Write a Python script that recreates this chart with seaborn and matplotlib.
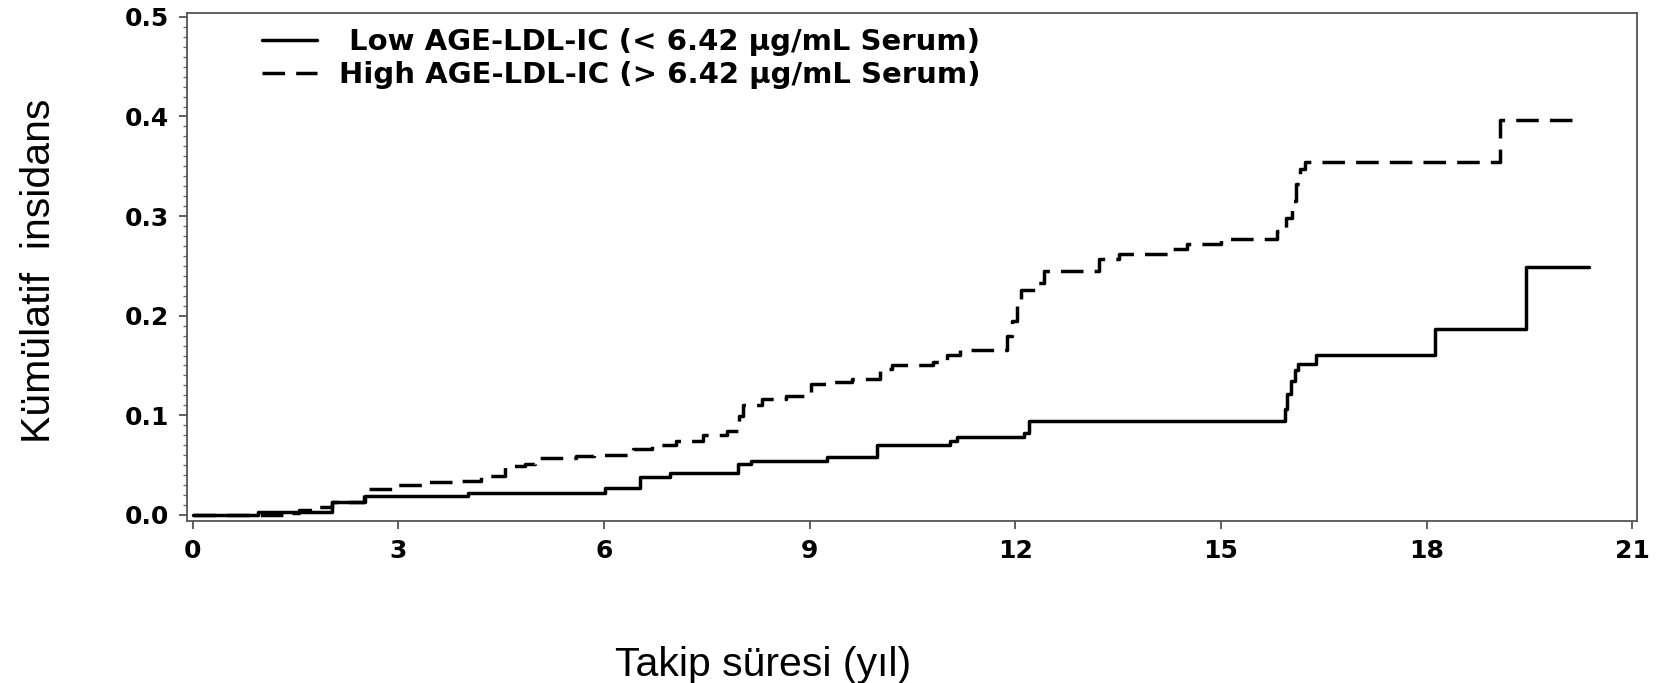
import matplotlib
matplotlib.use('Agg')
import matplotlib.pyplot as plt
import seaborn as sns
import pandas as pd
from matplotlib.ticker import MultipleLocator, FormatStrFormatter

# kümülatif insidans eğrileri (grafikten okunan basamak değerleri)
low_time = [0, 0.96, 2.03, 2.52, 4.02, 6.02, 6.53, 6.97, 7.96, 8.14, 9.25, 9.98, 11.05, 11.15, 12.12,
            12.2, 15.93, 15.96, 16.02, 16.08, 16.12, 16.38, 18.12, 19.45, 20.37]
low_inc = [0, 0.0033, 0.013, 0.019, 0.0224, 0.0268, 0.0385, 0.0425, 0.051, 0.0542, 0.0585, 0.0699, 0.0742, 0.078, 0.0826,
           0.094, 0.106, 0.121, 0.134, 0.145, 0.151, 0.161, 0.187, 0.249, 0.249]

high_time = [0, 1.45, 1.55, 1.8, 2.03, 2.5, 2.55, 3.0, 3.45, 3.9, 4.2, 4.55, 4.85, 5.0, 5.6,
             5.85, 6.42, 6.7, 7.05, 7.45, 7.8, 7.97, 8.03, 8.3, 8.65, 9.02, 9.25, 9.62, 10.02, 10.2,
             10.8, 11.0, 11.2, 11.88, 11.95, 12.02, 12.08, 12.3, 12.42, 13.22, 13.52, 14.24, 14.5, 15.0, 15.82,
             15.95, 16.03, 16.1, 16.16, 16.22, 19.07, 20.15]
high_inc = [0, 0.0015, 0.0047, 0.008, 0.0125, 0.02, 0.0264, 0.030, 0.033, 0.034, 0.039, 0.049, 0.051, 0.0575, 0.059,
            0.0605, 0.066, 0.070, 0.074, 0.080, 0.084, 0.099, 0.110, 0.116, 0.119, 0.131, 0.133, 0.136, 0.146, 0.150,
            0.153, 0.161, 0.166, 0.180, 0.195, 0.211, 0.226, 0.233, 0.245, 0.2565, 0.2615, 0.2665, 0.272, 0.2766, 0.285,
            0.298, 0.315, 0.332, 0.347, 0.354, 0.396, 0.396]

group_labels = [' Low AGE-LDL-IC (< 6.42 \u03bcg/mL Serum)', 'High AGE-LDL-IC (> 6.42 \u03bcg/mL Serum)']
x_ticks = [0, 3, 6, 9, 12, 15, 18, 21]
y_ticks = [0.0, 0.1, 0.2, 0.3, 0.4, 0.5]

df_low = pd.DataFrame({'t': low_time, 'ci': low_inc})
df_high = pd.DataFrame({'t': high_time, 'ci': high_inc})

sns.set_style('ticks')
plt.rcParams['font.family'] = ['DejaVu Sans']
plt.rcParams['text.color'] = 'black'
plt.rcParams['axes.labelcolor'] = 'black'
plt.rcParams['xtick.labelcolor'] = 'black'
plt.rcParams['ytick.labelcolor'] = 'black'

fig, ax = plt.subplots(figsize=(16.57, 6.83), dpi=100)
fig.subplots_adjust(left=0.1129, right=0.988, bottom=0.237, top=0.9814)

sns.lineplot(data=df_low, x='t', y='ci', ax=ax, color='black', linewidth=2.5,
             drawstyle='steps-post', estimator=None, label=group_labels[0])
sns.lineplot(data=df_high, x='t', y='ci', ax=ax, color='black', linewidth=2.5,
             drawstyle='steps-post', estimator=None, linestyle=(0, (6.5, 3.2)), label=group_labels[1])

ax.set_xlim(-0.08, 21.07)
ax.set_ylim(-0.0063, 0.5042)
ax.set_xticks(x_ticks)
ax.set_yticks(y_ticks)
ax.yaxis.set_major_formatter(FormatStrFormatter('%.1f'))
ax.yaxis.set_minor_locator(MultipleLocator(0.01))

ax.tick_params(axis='both', which='major', direction='out', length=6, width=1.2,
               color='#444444', labelsize=18, pad=7, labelcolor='black')
ax.tick_params(axis='y', which='minor', direction='out', length=3, width=0.9, color='#666666')
for lbl in ax.get_xticklabels() + ax.get_yticklabels():
    lbl.set_fontweight('bold')

for sp in ax.spines.values():
    sp.set_visible(True)
    sp.set_linewidth(1.3)
    sp.set_color('#555555')

label_font = ['Liberation Sans Narrow', 'Liberation Sans', 'DejaVu Sans']
ax.set_xlabel('Takip süresi (yıl)', fontsize=29.5, family=label_font, va='center', color='black')
ax.set_ylabel('Kümülatif  insidans', fontsize=29.5, family=label_font, va='center', color='black')
ax.xaxis.set_label_coords(0.397, -0.283)
ax.yaxis.set_label_coords(-0.102, 0.492)

leg = ax.legend(loc='upper left', bbox_to_anchor=(0.0517, 0.970), frameon=False,
                borderpad=0, borderaxespad=0, handlelength=1.9, handletextpad=0.75,
                labelspacing=0.19, prop={'weight': 'bold', 'size': 21})
for t in leg.get_texts():
    t.set_color('black')

plt.savefig('out.png', dpi=100)
plt.close()
